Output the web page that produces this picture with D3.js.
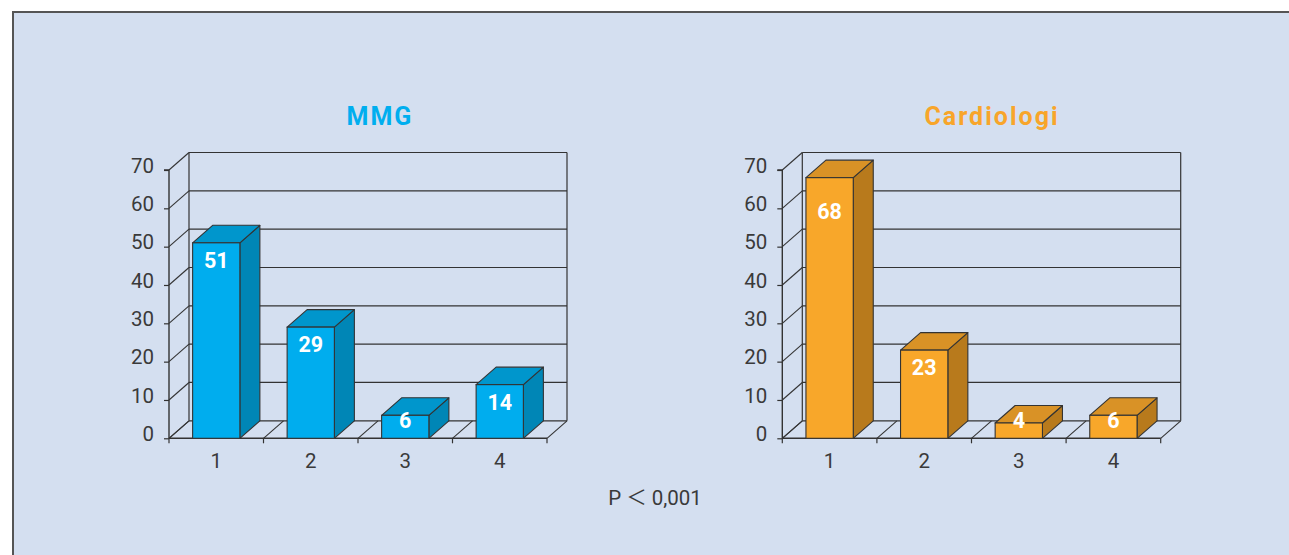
<!DOCTYPE html>
<html>
<head>
<meta charset="utf-8">
<script src="https://cdn.jsdelivr.net/npm/d3@7"></script>
<style>
  html, body { margin: 0; padding: 0; background: #ffffff; }
  svg { display: block; }
</style>
</head>
<body>
<svg id="chart" width="1289" height="555"></svg>
<script>
// Categories and values for the two panels
const categories = ["1", "2", "3", "4"];
const mmgValues = [51, 29, 6, 14];
const cardiologiValues = [68, 23, 4, 6];
const yTicks = [0, 10, 20, 30, 40, 50, 60, 70];
const panelTitles = ["MMG", "Cardiologi"];
const footnote = "P \uFF1C 0,001";

const palettes = [
  { title: "#00aeef", front: "#00adee", top: "#0096cc", side: "#0086b6" },
  { title: "#f8a52a", front: "#f8a72a", top: "#d99226", side: "#b87a1c" }
];

const svg = d3.select("#chart");

// panel background and frame (top and left edges)
svg.append("rect").attr("x", 13).attr("y", 12).attr("width", 1289 - 13).attr("height", 555 - 12)
  .attr("fill", "#d4dff0");
svg.append("path").attr("d", "M13,555 L13,12 L1289,12")
  .attr("fill", "none").attr("stroke", "#555").attr("stroke-width", 2);

const depthX = 20, depthY = -17.5;
const lineColor = "#333";
const fontFamily = "Roboto, 'Noto Sans', sans-serif";

function drawPanel(values, title, pal, left, right, titleX) {
  const g = svg.append("g");
  const y = d3.scaleLinear().domain([0, 70]).range([438.3, 170]);
  const x = d3.scaleBand().domain(categories).range([left, right])
    .paddingInner(0.5).paddingOuter(0.25);
  const step = x.step();
  const y0 = y(0);

  // back wall gridlines
  g.selectAll(".grid").data(yTicks).join("line")
    .attr("x1", left + depthX).attr("x2", right + depthX)
    .attr("y1", d => y(d) + depthY).attr("y2", d => y(d) + depthY)
    .attr("stroke", lineColor).attr("stroke-width", 1.2);
  // back wall verticals
  [left + depthX, right + depthX].forEach(xx => {
    g.append("line").attr("x1", xx).attr("x2", xx)
      .attr("y1", y(70) + depthY).attr("y2", y0 + depthY)
      .attr("stroke", lineColor).attr("stroke-width", 1.2);
  });
  // side wall diagonals
  g.selectAll(".diag").data(yTicks).join("line")
    .attr("x1", left).attr("x2", left + depthX)
    .attr("y1", d => y(d)).attr("y2", d => y(d) + depthY)
    .attr("stroke", lineColor).attr("stroke-width", 1.1);
  // floor diagonals at category boundaries
  const bounds = d3.range(categories.length + 1).map(i => left + i * step);
  g.selectAll(".floor").data(bounds).join("line")
    .attr("x1", d => d).attr("x2", d => d + depthX)
    .attr("y1", y0).attr("y2", y0 + depthY)
    .attr("stroke", lineColor).attr("stroke-width", 1.1);

  // front value axis
  const yAxis = d3.axisLeft(y).tickValues(yTicks).tickSize(5).tickPadding(10);
  const ya = g.append("g").attr("transform", `translate(${left},0)`).call(yAxis);
  ya.select(".domain").attr("stroke", lineColor).attr("stroke-width", 1.4).attr("d", `M-5,${y(70)}H0V${y0}`);
  ya.selectAll(".tick line").attr("stroke", lineColor).attr("stroke-width", 1.2);
  ya.selectAll(".tick text").attr("font-family", fontFamily).attr("font-size", 20.5)
    .attr("fill", "#3a3a3a").attr("dy", "0.1em");

  // front baseline with category ticks
  g.append("line").attr("x1", left).attr("x2", right).attr("y1", y0).attr("y2", y0)
    .attr("stroke", lineColor).attr("stroke-width", 1.4);
  g.selectAll(".ctick").data(bounds).join("line")
    .attr("x1", d => d).attr("x2", d => d).attr("y1", y0).attr("y2", y0 + 5)
    .attr("stroke", lineColor).attr("stroke-width", 1.2);
  g.selectAll(".clabel").data(categories).join("text")
    .attr("x", d => x(d) + x.bandwidth() / 2).attr("y", 467.5)
    .attr("text-anchor", "middle").attr("font-family", fontFamily).attr("font-size", 20.5)
    .attr("fill", "#3a3a3a").text(d => d);

  // 3D bars
  const bars = g.selectAll(".bar").data(values.map((v, i) => ({ v, c: categories[i] }))).join("g");
  bars.append("path")
    .attr("d", d => {
      const x2 = x(d.c) + x.bandwidth(), yt = y(d.v);
      return `M${x2},${y0}L${x2 + depthX},${y0 + depthY}L${x2 + depthX},${yt + depthY}L${x2},${yt}Z`;
    })
    .attr("fill", pal.side).attr("stroke", lineColor).attr("stroke-width", 1.1).attr("stroke-linejoin", "round");
  bars.append("path")
    .attr("d", d => {
      const x1 = x(d.c), x2 = x1 + x.bandwidth(), yt = y(d.v);
      return `M${x1},${yt}L${x1 + depthX},${yt + depthY}L${x2 + depthX},${yt + depthY}L${x2},${yt}Z`;
    })
    .attr("fill", pal.top).attr("stroke", lineColor).attr("stroke-width", 1.1).attr("stroke-linejoin", "round");
  bars.append("rect")
    .attr("x", d => x(d.c)).attr("y", d => y(d.v))
    .attr("width", x.bandwidth()).attr("height", d => y0 - y(d.v))
    .attr("fill", pal.front).attr("stroke", lineColor).attr("stroke-width", 1.1);
  // value labels: just under the top edge, kept inside the frame and above the floor
  bars.append("text")
    .attr("x", d => x(d.c) + x.bandwidth() / 2)
    .attr("y", d => Math.min(Math.max(y(d.v) + 17.5, y(70) + 41), y0 - 18))
    .attr("dy", "0.36em")
    .attr("text-anchor", "middle").attr("font-family", fontFamily).attr("font-weight", 700)
    .attr("font-size", 21.5).attr("fill", "#ffffff").text(d => d.v);

  // panel title
  g.append("text").attr("x", titleX).attr("y", 125).attr("text-anchor", "middle")
    .attr("font-family", fontFamily).attr("font-weight", 700).attr("font-size", 25)
    .attr("letter-spacing", 2).attr("fill", pal.title).text(title);
}

drawPanel(mmgValues, panelTitles[0], palettes[0], 169, 547, 380);
drawPanel(cardiologiValues, panelTitles[1], palettes[1], 782.3, 1160.7, 992);

svg.append("text").attr("x", 655).attr("y", 505).attr("text-anchor", "middle")
  .attr("font-family", "Roboto, 'Noto Sans CJK JP', sans-serif").attr("font-size", 20.5)
  .attr("fill", "#3a3a3a").text(footnote);
</script>
</body>
</html>
